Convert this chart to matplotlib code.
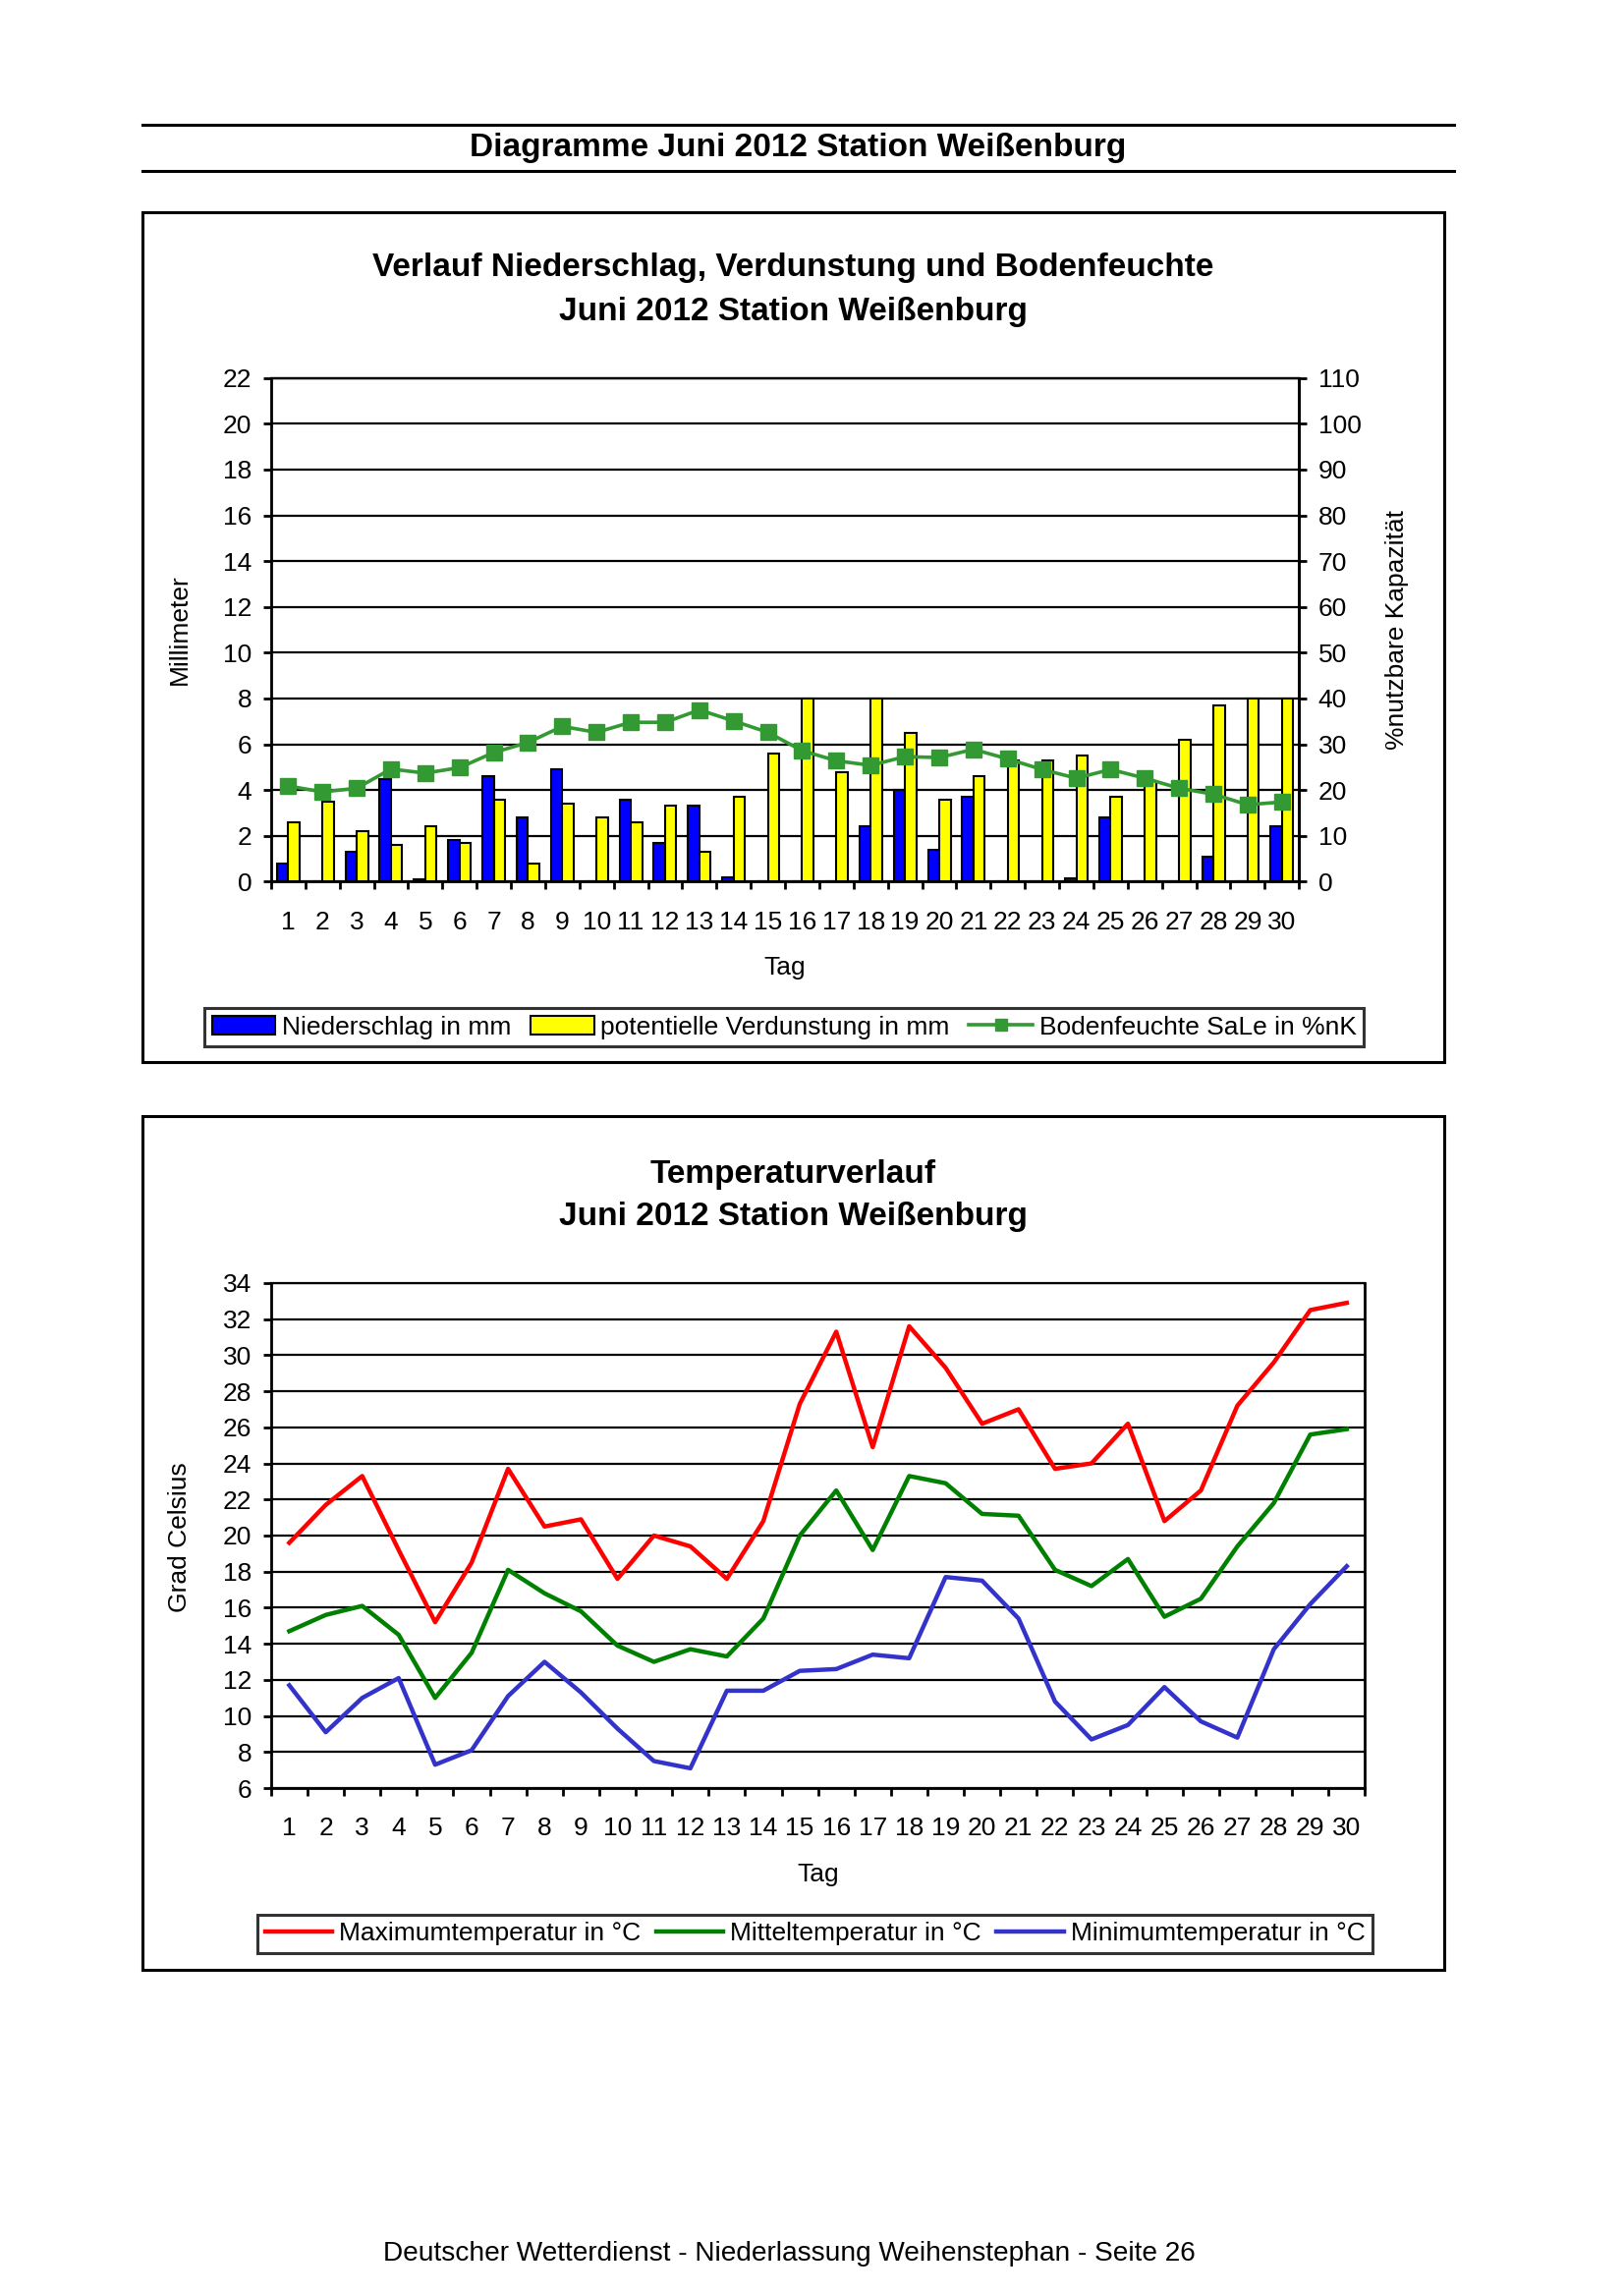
import matplotlib
matplotlib.use("Agg")
import matplotlib.pyplot as plt
from matplotlib.patches import Rectangle, Patch
from matplotlib.lines import Line2D
import numpy as np

plt.rcParams['font.family'] = ['Liberation Sans', 'DejaVu Sans']

# --- data ---
tage = list(range(1, 31))
niederschlag = [0.8, 0.0, 1.3, 4.5, 0.1, 1.8, 4.6, 2.8, 4.9, 0.0,
                3.6, 1.7, 3.3, 0.2, 0.0, 0.0, 0.0, 2.4, 4.0, 1.4,
                3.7, 0.0, 0.0, 0.15, 2.8, 0.0, 0.0, 1.1, 0.0, 2.4]
verdunstung = [2.6, 3.5, 2.2, 1.6, 2.4, 1.7, 3.6, 0.8, 3.4, 2.8,
               2.6, 3.3, 1.3, 3.7, 5.6, 8.0, 4.8, 8.0, 6.5, 3.6,
               4.6, 5.3, 5.3, 5.5, 3.7, 4.4, 6.2, 7.7, 8.0, 8.0]
bodenfeuchte = [20.9, 19.6, 20.4, 24.6, 23.7, 24.9, 28.2, 30.4, 33.9, 32.6,
                34.8, 34.8, 37.5, 35.1, 32.6, 28.6, 26.4, 25.4, 27.3, 27.1,
                28.9, 26.8, 24.5, 22.6, 24.5, 22.6, 20.4, 19.1, 16.8, 17.4]

t_max = [19.6, 21.7, 23.3, 19.2, 15.2, 18.5, 23.7, 20.5, 20.9, 17.6,
         20.0, 19.4, 17.6, 20.8, 27.3, 31.3, 24.9, 31.6, 29.3, 26.2,
         27.0, 23.7, 24.0, 26.2, 20.8, 22.5, 27.2, 29.6, 32.5, 32.9]
t_mittel = [14.7, 15.6, 16.1, 14.5, 11.0, 13.5, 18.1, 16.8, 15.8, 13.9,
            13.0, 13.7, 13.3, 15.4, 20.0, 22.5, 19.2, 23.3, 22.9, 21.2,
            21.1, 18.1, 17.2, 18.7, 15.5, 16.5, 19.4, 21.8, 25.6, 25.9]
t_min = [11.7, 9.1, 11.0, 12.1, 7.3, 8.1, 11.1, 13.0, 11.3, 9.3,
         7.5, 7.1, 11.4, 11.4, 12.5, 12.6, 13.4, 13.2, 17.7, 17.5,
         15.4, 10.8, 8.7, 9.5, 11.6, 9.7, 8.8, 13.7, 16.2, 18.3]

FS = 19
x = np.array(tage)

fig = plt.figure(figsize=(16.53, 23.37), dpi=100)


def style_axes(ax, ymin, ymax):
    ax.set_xlim(0.5, 30.5)
    ax.set_ylim(ymin, ymax)
    ax.set_yticks(np.arange(ymin, ymax + 1, 2))
    ax.set_xticks(np.arange(0.5, 31, 1))
    ax.set_xticklabels([])
    ax.set_xticks(x, minor=True)
    ax.set_xticklabels([str(t) for t in tage], minor=True, fontsize=FS)
    ax.tick_params(axis='x', which='major', direction='out', length=6, width=2)
    ax.tick_params(axis='x', which='minor', length=0, pad=21)
    ax.tick_params(axis='y', direction='out', length=6, width=2, labelsize=FS, pad=8)
    ax.grid(axis='y', color='black', linewidth=1.6)
    ax.set_axisbelow(True)
    ax.spines['top'].set_linewidth(1.6)
    for s in ['left', 'bottom', 'right']:
        ax.spines[s].set_linewidth(2)
    ax.text(0.5, -0.171, 'Tag', transform=ax.transAxes, ha='center', va='center', fontsize=FS)


# --- header / page frame ---
fig.add_artist(Line2D([0.0875, 0.8954], [0.9458, 0.9458], color='black', lw=2.2))
fig.add_artist(Line2D([0.0875, 0.8954], [0.9254, 0.9254], color='black', lw=2.2))
fig.text(0.4912, 0.9356, 'Diagramme Juni 2012 Station Weißenburg', ha='center', va='center',
         fontsize=24, fontweight='bold')
fig.add_artist(Rectangle((0.0875, 0.5376), 0.8016, 0.3699, fill=False, edgecolor='black', lw=2.2))
fig.add_artist(Rectangle((0.0875, 0.1421), 0.8016, 0.3719, fill=False, edgecolor='black', lw=2.2))
fig.text(0.4858, 0.0184, 'Deutscher Wetterdienst - Niederlassung Weihenstephan - Seite 26',
         ha='center', va='center', fontsize=20.2)

# --- chart 1: Niederschlag / Verdunstung / Bodenfeuchte ---
fig.text(0.4882, 0.8833, 'Verlauf Niederschlag, Verdunstung und Bodenfeuchte', ha='center',
         va='center', fontsize=24, fontweight='bold')
fig.text(0.4882, 0.8641, 'Juni 2012 Station Weißenburg', ha='center', va='center',
         fontsize=24, fontweight='bold')

ax1 = fig.add_axes([0.1669, 0.6160, 0.6330, 0.2194])
ax1.bar(x - 0.165, niederschlag, width=0.33, color='#0000FF', edgecolor='black', linewidth=1.5, zorder=3)
ax1.bar(x + 0.165, verdunstung, width=0.33, color='#FFFF00', edgecolor='black', linewidth=1.5, zorder=3)
style_axes(ax1, 0, 22)
ax1.set_ylabel('Millimeter', fontsize=FS)
ax1.yaxis.set_label_coords(-0.0772, 0.5)

ax1r = ax1.twinx()
ax1r.plot(x, bodenfeuchte, color='#339933', lw=2.6, marker='s', markersize=11, zorder=4)
ax1r.set_ylim(0, 110)
ax1r.set_yticks(np.arange(0, 111, 10))
ax1r.tick_params(axis='y', direction='out', length=6, width=2, labelsize=FS, pad=8)
ax1r.spines['top'].set_linewidth(1.6)
ax1r.spines['right'].set_linewidth(2)
ax1r.set_ylabel('%nutzbare Kapazität', fontsize=FS)
ax1r.yaxis.set_label_coords(1.0839, 0.5)

h1 = [Patch(facecolor='#0000FF', edgecolor='black', lw=1.5),
      Patch(facecolor='#FFFF00', edgecolor='black', lw=1.5),
      Line2D([], [], color='#339933', lw=2.6, marker='s', markersize=9)]
leg1 = fig.legend(h1, ['Niederschlag in mm', 'potentielle Verdunstung in mm', 'Bodenfeuchte SaLe in %nK'],
                  loc='center', bbox_to_anchor=(0.4828, 0.5526), ncol=3, fontsize=FS, frameon=True,
                  fancybox=False, handlelength=2.45, handleheight=0.7, handletextpad=0.25,
                  columnspacing=0.75, borderpad=0.3)
leg1.get_frame().set_edgecolor('black')
leg1.get_frame().set_linewidth(2.2)

# --- chart 2: Temperaturverlauf ---
fig.text(0.4882, 0.4884, 'Temperaturverlauf', ha='center', va='center', fontsize=24, fontweight='bold')
fig.text(0.4882, 0.4700, 'Juni 2012 Station Weißenburg', ha='center', va='center',
         fontsize=24, fontweight='bold')

ax2 = fig.add_axes([0.1669, 0.2212, 0.6736, 0.2200])
ax2.plot(x, t_max, color='#FF0000', lw=3.2, label='Maximumtemperatur in °C')
ax2.plot(x, t_mittel, color='#008000', lw=3.2, label='Mitteltemperatur in °C')
ax2.plot(x, t_min, color='#3333CC', lw=3.2, label='Minimumtemperatur in °C')
style_axes(ax2, 6, 34)
ax2.set_ylabel('Grad Celsius', fontsize=FS)
ax2.yaxis.set_label_coords(-0.0726, 0.496)

leg2 = fig.legend(loc='center', bbox_to_anchor=(0.5018, 0.1577), ncol=3, fontsize=FS, frameon=True,
                  fancybox=False, handlelength=2.6, handletextpad=0.25, columnspacing=0.6,
                  borderpad=0.3)
leg2.get_frame().set_edgecolor('black')
leg2.get_frame().set_linewidth(2.2)

fig.savefig('out.png', dpi=100, facecolor='white')
